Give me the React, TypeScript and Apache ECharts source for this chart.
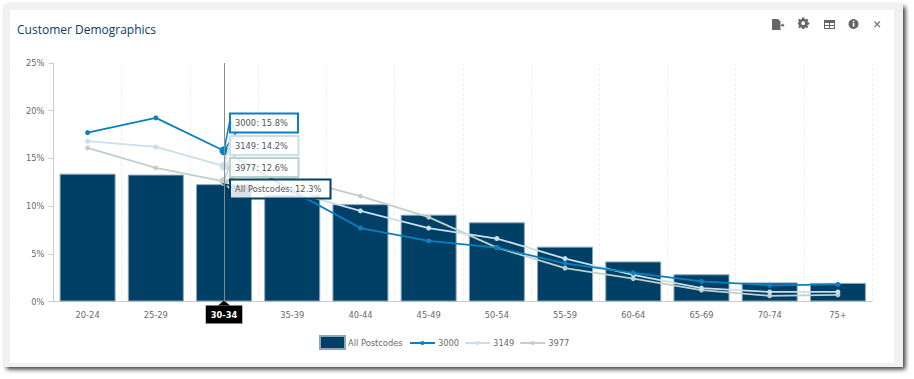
import React, { useEffect, useRef } from "react";
import * as echarts from "echarts";

const categories = ["20-24","25-29","30-34","35-39","40-44","45-49","50-54","55-59","60-64","65-69","70-74","75+"];
const allPostcodes = [13.4,13.3,12.3,11.2,10.2,9.1,8.3,5.75,4.2,2.85,2.0,1.95];
const s3000 = [17.7,19.25,15.8,11.6,7.7,6.35,5.65,4.0,3.0,2.1,1.7,1.8];
const s3149 = [16.8,16.2,14.2,11.5,9.5,7.7,6.6,4.5,2.8,1.4,1.0,1.0];
const s3977 = [16.1,14.0,12.6,12.9,11.05,8.85,5.65,3.5,2.4,1.2,0.6,0.7];
const yTicks = [0,5,10,15,20,25];
const activeIndex = 2;

const NAVY = "#003f66", BLUE = "#0a80bf", PALE = "#c9e0ec", SAGE = "#bfd0c9";
const FONT = '"DejaVu Sans", sans-serif';
const TEXT = "#6a6a6a";
const SIZE = 8.3;

const D_FILE = "M0 0H6L8.5 2.5V11H0Z M9 5.5H10.5V4.2L12.5 6.2L10.5 8.2V6.9H9Z";
const D_GEAR = "M4.3 0H6.7L7 1.6L8.3 2.2L9.7 1.3L11 3L9.9 4.2L10.2 4.9L12 5.2V7.3L10.2 7.6L9.8 8.7L10.8 10L9.2 11.3L8 10.3L7 10.8L6.7 12H4.3L4 10.8L3 10.3L1.8 11.3L0.2 10L1.2 8.7L0.8 7.6L0 7.3V5.2L0.8 4.9L1.1 4.2L0 3L1.3 1.3L2.7 2.2L4 1.6Z M5.5 4A2 2 0 1 0 5.5 8A2 2 0 1 0 5.5 4Z";
const D_TABLE = "M0 0H11V9H0Z M1 3V4.9H5V3Z M6 3V4.9H10V3Z M1 5.9V8H5V5.9Z M6 5.9V8H10V5.9Z";
echarts.graphic.registerShape("iconFile", echarts.graphic.extendPath(D_FILE, {}));
echarts.graphic.registerShape("iconGear", echarts.graphic.extendPath(D_GEAR, {}));
echarts.graphic.registerShape("iconTable", echarts.graphic.extendPath(D_TABLE, {}));

export default function App() {
  const ref = useRef<HTMLDivElement>(null);
  useEffect(() => {
    document.body.style.margin = "0";
    const chart = echarts.init(ref.current!, null, { renderer: "svg" });
    const lineSeries = (name: string, data: number[], color: string, z: number) => ({
      name, type: "line", data, z,
      symbol: "circle",
      symbolSize: (_v: number, p: any) => (p.dataIndex === activeIndex ? 9 : 5),
      lineStyle: { color, width: 1.8 },
      itemStyle: { color },
    });
    const legendText = { fontFamily: FONT, fontSize: SIZE, color: TEXT, padding: [0, 0, 0, -2] };
    chart.setOption({
      animation: false,
      backgroundColor: "#ffffff",
      textStyle: { fontFamily: FONT },
      title: {
        text: "Customer Demographics", left: 17, top: 23.5, padding: 0,
        textStyle: { fontFamily: '"Open Sans", sans-serif', fontSize: 12, fontWeight: 400, color: "#0d3c61" },
      },
      grid: { left: 53.5, right: 42, top: 63, bottom: 77.5 },
      legend: [
        {
          left: 319, top: 335, padding: 0, itemWidth: 25, itemHeight: 13, icon: "rect",
          textStyle: legendText, data: ["All Postcodes"],
        },
        {
          left: 409, top: 339, padding: 0, itemWidth: 25, itemHeight: 5, itemGap: 5,
          textStyle: legendText, data: ["3000", "3149", "3977"],
        },
      ],
      xAxis: {
        type: "category", data: categories,
        axisLine: { lineStyle: { color: "#cccccc" } },
        axisTick: { alignWithLabel: true, length: 4, lineStyle: { color: "#cccccc" } },
        axisLabel: { fontFamily: FONT, fontSize: SIZE, color: TEXT, margin: 9 },
        splitLine: { show: true, lineStyle: { color: "#efefef", type: [3, 2] } },
        axisPointer: {
          show: true, status: "show", value: categories[activeIndex], triggerTooltip: false, snap: true,
          lineStyle: { color: "#8a8a8a", width: 1, type: "solid" },
          label: {
            show: true, backgroundColor: "#000000", color: "#ffffff", fontFamily: FONT, fontSize: SIZE,
            fontWeight: "bold", padding: [5, 5], margin: 4, borderRadius: 0, shadowBlur: 0,
          },
          handle: { show: false },
        },
      },
      yAxis: {
        type: "value", min: yTicks[0], max: yTicks[yTicks.length - 1], interval: yTicks[1] - yTicks[0],
        axisLine: { show: true, lineStyle: { color: "#cccccc" } },
        axisTick: { show: true, length: 5, lineStyle: { color: "#cccccc" } },
        axisLabel: { fontFamily: FONT, fontSize: SIZE, color: TEXT, margin: 9, formatter: "{value}%" },
        splitLine: { show: false },
      },
      series: [
        {
          name: "All Postcodes", type: "bar", data: allPostcodes, barWidth: 56, z: 2,
          itemStyle: { color: NAVY, borderColor: "#8aa6b8", borderWidth: 1 },
        },
        lineSeries("3977", s3977, SAGE, 3),
        lineSeries("3149", s3149, PALE, 4),
        lineSeries("3000", s3000, BLUE, 5),
      ],
    });

    const px = chart.convertToPixel({ xAxisIndex: 0 }, categories[activeIndex]) as number;
    const py = (v: number) => chart.convertToPixel({ yAxisIndex: 0 }, v) as number;
    const boxX = px + 6;
    const callouts = [
      { text: "3000: " + s3000[activeIndex] + "%", w: 68, y: 113.5, h: 19, color: BLUE, v: s3000[activeIndex] },
      { text: "3149: " + s3149[activeIndex] + "%", w: 68.5, y: 136, h: 19, color: PALE, v: s3149[activeIndex] },
      { text: "3977: " + s3977[activeIndex] + "%", w: 68.5, y: 158, h: 19, color: SAGE, v: s3977[activeIndex] },
      { text: "All Postcodes: " + allPostcodes[activeIndex] + "%", w: 100.5, y: 179.5, h: 19, color: NAVY, v: allPostcodes[activeIndex] },
    ];
    const graphics: any[] = [];
    callouts.forEach((c, i) => {
      const tipY = py(c.v);
      graphics.push({
        type: "polygon", z: 20 + i, silent: true,
        shape: { points: [[boxX, c.y + 6], [px, tipY], [boxX + 6, c.y + c.h]] },
        style: { fill: "rgba(255,255,255,0.85)", stroke: c.color, lineWidth: 1.5 },
      });
      graphics.push({
        type: "rect", z: 20 + i, silent: true,
        shape: { x: boxX, y: c.y, width: c.w, height: c.h },
        style: { fill: "rgba(255,255,255,0.85)", stroke: c.color, lineWidth: 2 },
      });
      graphics.push({
        type: "text", z: 20 + i, silent: true, x: boxX + 5, y: c.y + c.h / 2,
        style: { text: c.text, font: SIZE + "px " + FONT, fill: "#555555", verticalAlign: "middle" },
      });
    });
    const baseY = py(0);
    graphics.push({
      type: "polygon", z: 30, silent: true,
      shape: { points: [[px - 6, baseY + 4], [px, baseY - 1], [px + 6, baseY + 4]] },
      style: { fill: "#000000" },
    });
    const icon = { fill: "#666666" };
    graphics.push(
      { type: "iconFile", z: 30, silent: true, x: 772, y: 19, style: icon },
      { type: "iconGear", z: 30, silent: true, x: 798, y: 17.5, scaleX: 0.95, scaleY: 0.95, style: icon },
      { type: "iconTable", z: 30, silent: true, x: 824, y: 20, style: { fill: "#666666" } },
      { type: "circle", z: 30, silent: true, shape: { cx: 853.5, cy: 24, r: 5 }, style: icon },
      { type: "rect", z: 31, silent: true, shape: { x: 852.8, y: 23, width: 1.6, height: 3.6 }, style: { fill: "#fff" } },
      { type: "rect", z: 31, silent: true, shape: { x: 852.8, y: 20.8, width: 1.6, height: 1.4 }, style: { fill: "#fff" } },
      { type: "line", z: 30, silent: true, shape: { x1: 874.5, y1: 21.5, x2: 880, y2: 27 }, style: { stroke: "#777", lineWidth: 1.2 } },
      { type: "line", z: 30, silent: true, shape: { x1: 880, y1: 21.5, x2: 874.5, y2: 27 }, style: { stroke: "#777", lineWidth: 1.2 } },
      {
        type: "rect", z: -10, silent: true, shape: { x: 4, y: 4, width: 899, height: 363 },
        style: { fill: "#f1f1f1", shadowBlur: 4, shadowColor: "rgba(0,0,0,0.75)", shadowOffsetX: 2.5, shadowOffsetY: 2.5 },
      },
      { type: "rect", z: -9, silent: true, shape: { x: 10, y: 10, width: 884, height: 353 }, style: { fill: "#ffffff" } },
    );
    chart.setOption({ graphic: graphics });
    return () => chart.dispose();
  }, []);
  return <div ref={ref} style={{ width: 914, height: 379 }} />;
}
